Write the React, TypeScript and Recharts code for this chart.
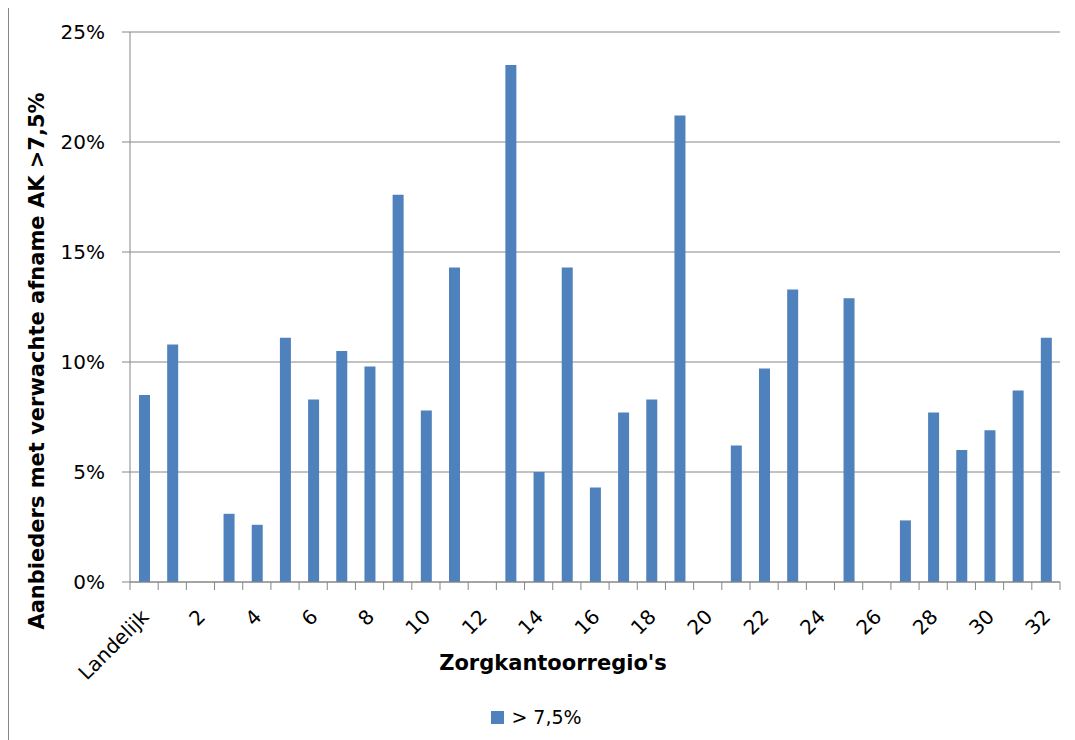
import React from "react";
import { BarChart, Bar, XAxis, YAxis, CartesianGrid, Legend, Label } from "recharts";

const CATEGORIES = [
  "Landelijk", "1", "2", "3", "4", "5", "6", "7", "8", "9", "10",
  "11", "12", "13", "14", "15", "16", "17", "18", "19", "20",
  "21", "22", "23", "24", "25", "26", "27", "28", "29", "30", "31", "32",
];

const VALUES = [
  8.5, 10.8, 0, 3.1, 2.6, 11.1, 8.3, 10.5, 9.8, 17.6, 7.8,
  14.3, 0, 23.5, 5.0, 14.3, 4.3, 7.7, 8.3, 21.2, 0,
  6.2, 9.7, 13.3, 0, 12.9, 0, 2.8, 7.7, 6.0, 6.9, 8.7, 11.1,
];

const Y_TICKS = [0, 5, 10, 15, 20, 25];
const SERIES_NAME = "> 7,5%";
const X_TITLE = "Zorgkantoorregio's";
const Y_TITLE = "Aanbieders met verwachte afname AK >7,5%";

const data = CATEGORIES.map((c, i) => ({ name: c, value: VALUES[i] }));

const BLUE = "#4F81BD";
const GRID = "#868686";
const FONT = "'DejaVu Sans', sans-serif";

const XTick = (props: any) => {
  const { x, y, payload } = props;
  const index = typeof props.index === "number" ? props.index : CATEGORIES.indexOf(payload.value);
  const half = payload && typeof payload.offset === "number" && payload.offset > 0 ? payload.offset : 930 / 33 / 2;
  const isLast = index === CATEGORIES.length - 1;
  const tx = x + 1;
  const ty = y + 23;
  return (
    <g>
      <line x1={x - half} x2={x - half} y1={y - 8} y2={y} stroke={GRID} strokeWidth={1} />
      {isLast && <line x1={x + half} x2={x + half} y1={y - 8} y2={y} stroke={GRID} strokeWidth={1} />}
      {index % 2 === 0 && (
        <text
          x={tx}
          y={ty}
          dy="0.35em"
          textAnchor="end"
          transform={`rotate(-45 ${tx} ${ty})`}
          fontFamily={FONT}
          fontSize={20}
          fill="#000"
        >
          {payload.value}
        </text>
      )}
    </g>
  );
};

const LegendContent = () => (
  <div
    style={{
      height: 30,
      display: "flex",
      alignItems: "center",
      justifyContent: "center",
      paddingLeft: 4,
      fontFamily: FONT,
      fontSize: 19,
      color: "#000",
    }}
  >
    <span style={{ display: "inline-block", width: 13, height: 13, background: BLUE, marginRight: 7 }} />
    <span>{SERIES_NAME}</span>
  </div>
);

export default function App() {
  return (
    <div
      style={{
        width: 1067,
        height: 733,
        marginTop: -1,
        borderLeft: `1px solid ${GRID}`,
        borderTop: `1px solid ${GRID}`,
        boxSizing: "border-box",
        background: "#fff",
      }}
    >
      <BarChart
        width={1066}
        height={731}
        data={data}
        margin={{ top: 24, right: 15, left: 0, bottom: 7 }}
        barSize={11}
      >
        <CartesianGrid vertical={false} stroke={GRID} strokeWidth={1} />
        <XAxis
          dataKey="name"
          interval={0}
          height={120}
          tickSize={8}
          tickMargin={0}
          tickLine={false}
          axisLine={{ stroke: GRID, strokeWidth: 1 }}
          tick={<XTick />}
        >
          <Label
            content={(p: any) => {
              const vb = p.viewBox || { x: 121, y: 574, width: 930, height: 120 };
              const lx = vb.x + vb.width / 2 - 42;
              const ly = vb.y + vb.height - 32;
              return (
                <text
                  x={lx}
                  y={ly}
                  textAnchor="middle"
                  fontFamily={FONT}
                  fontSize={21}
                  fontWeight="bold"
                  fill="#000"
                >
                  {X_TITLE}
                </text>
              );
            }}
          />
        </XAxis>
        <YAxis
          width={121}
          domain={[0, 25]}
          ticks={Y_TICKS}
          interval={0}
          tickSize={8}
          tickMargin={17}
          tickFormatter={(v: number) => `${v}%`}
          axisLine={{ stroke: GRID, strokeWidth: 1 }}
          tickLine={{ stroke: GRID, strokeWidth: 1 }}
          tick={{ fontFamily: FONT, fontSize: 20, fill: "#000" }}
        >
          <Label
            content={(p: any) => {
              const vb = p.viewBox || { x: 0, y: 24, width: 121, height: 550 };
              const lx = vb.x + 35;
              const ly = vb.y + vb.height / 2 + 54;
              return (
                <text
                  x={lx}
                  y={ly}
                  textAnchor="middle"
                  transform={`rotate(-90 ${lx} ${ly})`}
                  fontFamily={FONT}
                  fontSize={21}
                  fontWeight="bold"
                  fill="#000"
                >
                  {Y_TITLE}
                </text>
              );
            }}
          />
        </YAxis>
        <Legend verticalAlign="bottom" align="center" content={<LegendContent />} />
        <Bar dataKey="value" name={SERIES_NAME} fill={BLUE} isAnimationActive={false} />
      </BarChart>
    </div>
  );
}
